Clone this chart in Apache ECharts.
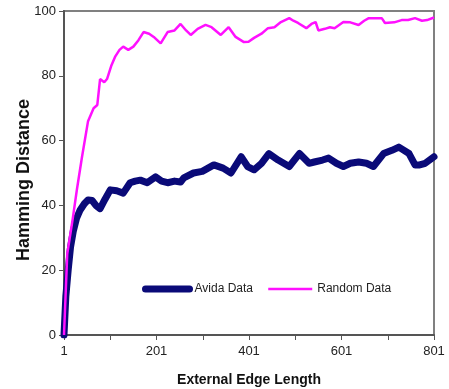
<!DOCTYPE html>
<html>
<head>
<meta charset="utf-8">
<script src="https://cdn.jsdelivr.net/npm/echarts@6/dist/echarts.min.js"></script>
<style>
  html, body { margin: 0; padding: 0; background: #fff; }
  #chart { width: 449px; height: 389px; }
</style>
</head>
<body>
<div id="chart"></div>
<script>
// edge length positions and hamming distances
const avidaX = [1, 5, 10, 15, 21, 28, 36, 45, 53, 62, 70, 79, 90, 101, 115, 129, 144, 155, 166, 181, 199, 212, 225, 240, 253, 260, 281, 300, 325, 345, 362, 384, 398, 412, 428, 444, 464, 488, 510, 531, 542, 560, 573, 590, 605, 620, 638, 655, 670, 692, 710, 725, 747, 760, 770, 782, 801];
const avidaY = [0, 12, 20, 27, 32, 36, 38.6, 40.5, 41.7, 41.5, 40, 39, 42, 44.8, 44.5, 43.8, 47, 47.5, 47.8, 47, 48.8, 47.5, 47, 47.5, 47.2, 48.5, 50, 50.5, 52.5, 51.5, 50, 55, 52, 51, 53, 56, 54, 52, 56, 53, 53.4, 54, 54.6, 53, 52, 53, 53.4, 53, 52, 56, 57, 58, 56, 52.5, 52.5, 53, 55];

const randomX = [1, 8, 20, 29, 40, 53, 65, 73, 79, 88, 94, 103, 112, 121, 129, 140, 151, 162, 173, 185, 195, 210, 225, 240, 253, 265, 275, 290, 307, 320, 340, 357, 372, 390, 400, 412, 428, 442, 456, 470, 488, 497, 507, 525, 536, 545, 551, 565, 576, 586, 605, 620, 638, 650, 660, 675, 688, 695, 715, 731, 745, 760, 775, 786, 801];
const randomY = [0, 25, 36, 45, 55, 66, 70, 71, 79, 78, 79, 83, 86, 88, 89, 88, 89, 91, 93.5, 93, 92, 90, 93.5, 94, 96, 94, 92.6, 94.5, 95.7, 95, 92.6, 95, 92, 90.4, 90.5, 91.7, 93, 94.7, 95, 96.6, 97.8, 97, 96.3, 94.7, 96, 96.6, 94, 94.5, 95, 94.7, 96.6, 96.5, 95.7, 97, 97.8, 97.8, 97.8, 96.3, 96.5, 97.2, 97.2, 97.8, 97, 97.2, 98];

const xTickLabels = [1, 201, 401, 601, 801];

// axis runs 0..800 internally so ticks land on 1, 101, 201 ...
const toPairs = (xs, ys) => xs.map((x, i) => [x - 1, ys[i]]);

const chart = echarts.init(document.getElementById('chart'));
chart.setOption({
  animation: false,
  backgroundColor: '#fff',
  textStyle: { fontFamily: 'Liberation Sans, Arial, sans-serif' },
  grid: {
    left: 64, right: 15, top: 11, bottom: 54,
    outerBoundsMode: 'none',
    show: true, borderColor: '#808080', borderWidth: 2
  },
  legend: {
    left: 142, top: 283, padding: 0,
    itemWidth: 44, itemHeight: 14, itemGap: 14,
    itemStyle: { opacity: 0 },
    textStyle: { fontSize: 12, color: '#222' },
    data: [
      { name: 'Avida Data', lineStyle: { width: 7, cap: 'round' } },
      { name: 'Random Data', lineStyle: { width: 2.5 } }
    ]
  },
  xAxis: {
    type: 'value', min: 0, max: 800, interval: 100,
    name: 'External Edge Length', nameLocation: 'middle', nameGap: 38,
    nameMoveOverlap: false,
    nameTextStyle: { fontWeight: 'bold', fontSize: 14, color: '#111' },
    axisLine: { lineStyle: { color: '#555', width: 2 } },
    axisTick: { length: 5, lineStyle: { color: '#555' } },
    axisLabel: {
      fontSize: 13, color: '#222', margin: 10,
      formatter: v => (xTickLabels.includes(v + 1) ? String(v + 1) : '')
    },
    splitLine: { show: false }
  },
  yAxis: {
    type: 'value', min: 0, max: 100, interval: 20,
    name: 'Hamming Distance', nameLocation: 'middle', nameGap: 31,
    nameMoveOverlap: false,
    nameTextStyle: { fontWeight: 'bold', fontSize: 18, color: '#111', padding: [0, 14, 0, 0] },
    axisLine: { show: true, lineStyle: { color: '#555', width: 2 } },
    axisTick: { show: true, length: 5, lineStyle: { color: '#555' } },
    axisLabel: { fontSize: 13, color: '#222', margin: 8 },
    splitLine: { show: false }
  },
  series: [
    {
      name: 'Avida Data', type: 'line', symbol: 'none',
      data: toPairs(avidaX, avidaY),
      itemStyle: { color: '#0a0a78' },
      lineStyle: { color: '#0a0a78', width: 7, cap: 'round', join: 'round' }
    },
    {
      name: 'Random Data', type: 'line', symbol: 'none',
      data: toPairs(randomX, randomY),
      itemStyle: { color: '#ff10ff' },
      lineStyle: { color: '#ff10ff', width: 2.5 }
    }
  ]
});
</script>
</body>
</html>
